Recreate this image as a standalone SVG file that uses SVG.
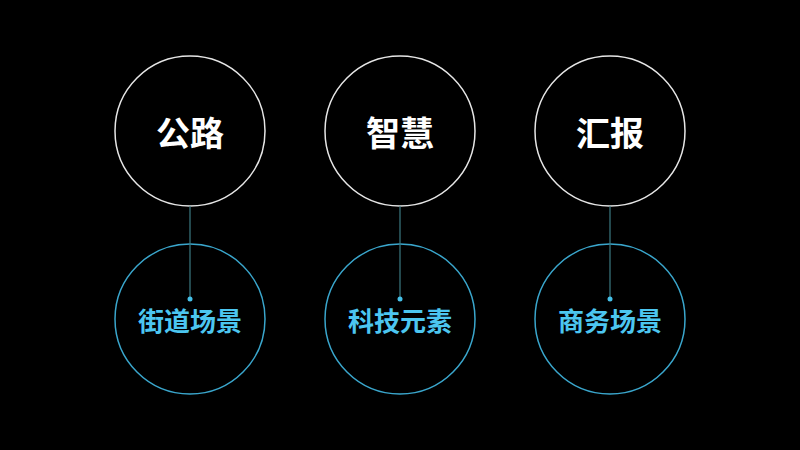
<svg xmlns="http://www.w3.org/2000/svg" width="800" height="450" viewBox="0 0 800 450">
  <style>
    .top { fill: #000; stroke: #e6e6e6; stroke-width: 1.5; }
    .bot { fill: none; stroke: #3aa6cc; stroke-width: 1.5; }
    .conn { stroke: #3b7a82; stroke-width: 1.2; }
    .dot { fill: #45c0e8; }
    .tt { fill: #fff; font-family: "Noto Sans CJK SC", "Noto Sans", sans-serif; font-size: 34px; font-weight: 700; text-anchor: middle; dominant-baseline: central; }
    .bt { fill: #4cc6f0; font-family: "Noto Sans CJK SC", "Noto Sans", sans-serif; font-size: 26px; font-weight: 700; text-anchor: middle; dominant-baseline: central; }
  </style>
  <rect width="800" height="450" fill="#000"/>
  <g id="node-gonglu">
    <circle class="top" cx="190" cy="131" r="75"/>
    <text class="tt" x="190" y="131">公路</text>
  </g>
  <g id="node-zhihui">
    <circle class="top" cx="400" cy="131" r="75"/>
    <text class="tt" x="400" y="131">智慧</text>
  </g>
  <g id="node-huibao">
    <circle class="top" cx="610" cy="131" r="75"/>
    <text class="tt" x="610" y="131">汇报</text>
  </g>
  <g id="node-jiedao">
    <circle class="bot" cx="190" cy="319" r="75"/>
    <text class="bt" x="190" y="319">街道场景</text>
  </g>
  <g id="node-keji">
    <circle class="bot" cx="400" cy="319" r="75"/>
    <text class="bt" x="400" y="319">科技元素</text>
  </g>
  <g id="node-shangwu">
    <circle class="bot" cx="610" cy="319" r="75"/>
    <text class="bt" x="610" y="319">商务场景</text>
  </g>
  <g id="connectors">
    <line class="conn" x1="190" y1="206" x2="190" y2="299"/>
    <line class="conn" x1="400" y1="206" x2="400" y2="299"/>
    <line class="conn" x1="610" y1="206" x2="610" y2="299"/>
    <circle class="dot" cx="190" cy="299" r="2.5"/>
    <circle class="dot" cx="400" cy="299" r="2.5"/>
    <circle class="dot" cx="610" cy="299" r="2.5"/>
  </g>
</svg>
